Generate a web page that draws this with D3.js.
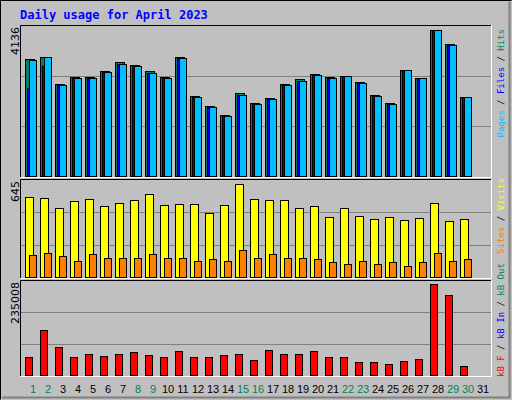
<!DOCTYPE html><html><head><meta charset="utf-8">
<script src="https://cdn.jsdelivr.net/npm/d3@7"></script>
<style>body{margin:0;background:#fff}</style></head><body>
<script>
const days=d3.range(1,32);
const weekend=[1,2,8,9,15,16,22,23,29,30];
const hits=[3224,3279,2539,2731,2731,2876,3122,3059,2876,2712,3279,2210,1936,1663,2293,2019,2156,2539,2676,2813,2731,2758,2594,2238,2019,2922,2703,4018,3616,2183,0];
const files=[2410,3013,2512,2704,2704,2849,3067,3032,2821,2685,3252,2183,1909,1643,2238,1992,2129,2512,2603,2786,2704,2758,2567,2211,1992,2922,2703,4018,3589,2183,0];
const pages=[3197,3279,2512,2704,2704,2849,3067,3032,2821,2685,3252,2183,1909,1643,2238,1992,2129,2512,2603,2786,2704,2758,2567,2211,1992,2922,2703,4018,3589,2183,0];
const visits=[531,525,458,504,518,471,491,511,551,478,484,484,424,478,618,518,511,511,458,471,397,458,404,384,397,377,391,491,371,384,0];
const sites=[143,156,136,103,150,129,123,129,150,123,129,109,116,109,176,123,150,129,123,116,96,89,109,89,96,76,96,156,109,116,0];
const kbF=[43704,112146,70091,45353,52774,47827,52774,57722,50301,43704,60196,43704,43704,50301,52774,37932,62670,52774,52774,60196,45353,43704,32984,32984,28036,35458,40405,226765,198729,23089,0];
const maxHits=4136,maxVisits=645,maxKB=235008;

const W=512,H=400;
const svg=d3.select("body").append("svg").attr("width",W).attr("height",H);
svg.append("rect").attr("width",W).attr("height",H).attr("fill","#C0C0C0");
svg.append("path").attr("d","M0.5,399.5V0.5H511.5").attr("stroke","#000").attr("fill","none");
svg.append("path").attr("d","M2.5,397.5H509.5V2").attr("stroke","#808080").attr("stroke-width",2).attr("fill","none");
svg.append("text").attr("x",20).attr("y",19).text("Daily usage for April 2023")
 .attr("font-family","DejaVu Sans Mono").attr("font-weight","bold").attr("font-size",12).attr("fill","#0000FF");

const x=d3.scaleLinear().domain([1,31]).range([25,475]);
const L=20,R=491;
const panels=[{t:25,b:177,max:maxHits,lab:"4136"},{t:179,b:278,max:maxVisits,lab:"645"},{t:280,b:376,max:maxKB,lab:"235008"}];
panels.forEach(p=>{
 p.y=d3.scaleLinear().domain([0,p.max]).range([p.b-1,p.t+0.5]);
 svg.append("rect").attr("x",L).attr("y",p.t).attr("width",R-L).attr("height",p.b-p.t).attr("fill","#C0C0C0");
 [1/3,2/3].forEach(f=>svg.append("line").attr("x1",L).attr("x2",R).attr("y1",Math.round(p.y(p.max*f))+0.5).attr("y2",Math.round(p.y(p.max*f))+0.5).attr("stroke","#808080"));
 svg.append("path").attr("d",`M${L+0.5},${p.b}V${p.t+0.5}H${R}`).attr("stroke","#000").attr("fill","none");
 svg.append("path").attr("d",`M${L+0.5},${p.b+0.5}H${R+0.5}V${p.t}`).attr("stroke","#fff").attr("fill","none");
 svg.append("text").attr("transform",`translate(${19},${p.t+2}) rotate(-90)`).attr("text-anchor","end")
  .attr("font-family","DejaVu Sans").attr("font-size",11).attr("fill","#000").text(p.lab);
});
function bars(data,p,off,w,color){
 svg.append("g").selectAll("rect").data(days.filter((d,i)=>data[i]>0)).join("rect")
  .attr("x",d=>x(d)+off+0.5).attr("width",w).attr("y",d=>Math.round(p.y(data[d-1]))+0.5)
  .attr("height",d=>p.b-1-Math.round(p.y(data[d-1]))).attr("fill",color).attr("stroke","#000");
}
bars(hits,panels[0],0,9,"#00805C");
bars(files,panels[0],2,9,"#0000FF");
bars(pages,panels[0],4,7,"#00C0FF");
bars(visits,panels[1],0,8,"#FFFF00");
bars(sites,panels[1],4,7,"#FF8000");
bars(kbF,panels[2],0,7,"#FF0000");

svg.append("g").selectAll("text").data(days).join("text").attr("x",d=>x(d)+8).attr("y",393)
 .attr("text-anchor","middle").attr("font-family","Liberation Sans").attr("font-size",11)
 .attr("fill",d=>weekend.includes(d)?"#00805C":"#000").text(d=>d);

function vlabel(y,anchor,parts){
 const t=svg.append("text").attr("transform",`translate(504,${y}) rotate(-90)`).attr("text-anchor",anchor)
  .attr("font-family","DejaVu Sans Mono").attr("font-size",9);
 parts.forEach(([s,c])=>t.append("tspan").attr("fill",c).text(s));
}
vlabel(29,"end",[["Pages","#00C0FF"],[" / ","#000"],["Files","#0000FF"],[" / ","#000"],["Hits","#00805C"]]);
vlabel(178,"end",[["Sites","#FF8000"],[" / ","#000"],["Visits","#FFFF00"]]);
vlabel(377,"start",[["kB F","#FF0000"],[" / ","#000"],["kB In","#0000FF"],[" / ","#000"],["kB Out","#00805C"]]);
</script></body></html>
